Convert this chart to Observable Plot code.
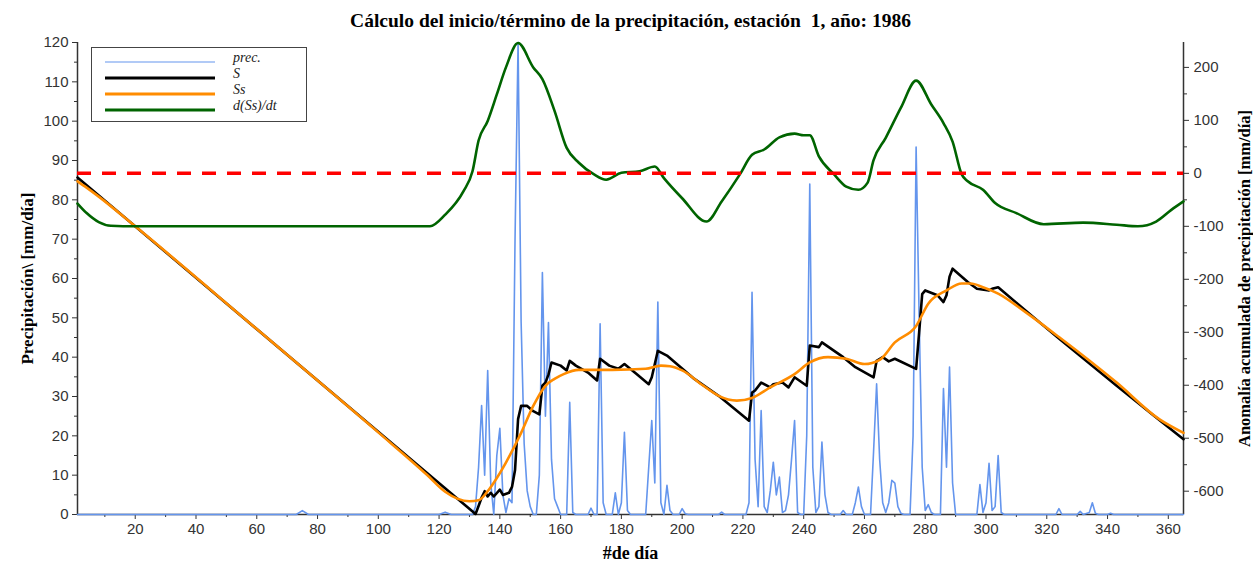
<!DOCTYPE html>
<html>
<head>
<meta charset="utf-8">
<script src="https://cdn.jsdelivr.net/npm/d3@7"></script>
<script src="https://cdn.jsdelivr.net/npm/@observablehq/plot@0.6"></script>
<style>
  html, body { margin: 0; padding: 0; background: #fff; }
  #wrap { position: relative; width: 1253px; height: 564px; }
  #legend { position: absolute; left: 91px; top: 47px; width: 216px; height: 75px;
            border: 1px solid #444; background: #fff; box-sizing: border-box; }
</style>
</head>
<body>
<div id="wrap"><div id="chart"></div><div id="legend"></div></div>
<script>
// ---------- text ----------
const titleText = "Cálculo del inicio/término de la precipitación, estación  1, año: 1986";
const xLabelText = "#de día";
const yLeftLabelText = "Precipitación\\ [mm/día]";
const yRightLabelText = "Anomalía acumulada de precipitación [mm/día]";

// ---------- scales / ticks ----------
const xDomain = [1, 365];
const yLeftDomain = [0, 120];
const yRightDomain = [-644, 247];
const xTicks = [20, 40, 60, 80, 100, 120, 140, 160, 180, 200, 220, 240, 260, 280, 300, 320, 340, 360];
const xMinorTicks = [10, 30, 50, 70, 90, 110, 130, 150, 170, 190, 210, 230, 250, 270, 290, 310, 330, 350];
const yLeftTicks = [0, 10, 20, 30, 40, 50, 60, 70, 80, 90, 100, 110, 120];
const yLeftMinorTicks = [5, 15, 25, 35, 45, 55, 65, 75, 85, 95, 105, 115];
const yRightTicks = [-600, -500, -400, -300, -200, -100, 0, 100, 200];
const yRightMinorTicks = [-550, -450, -350, -250, -150, -50, 50, 150];
const thresholdValue = [0];

// ---------- data: daily precipitation (left axis, mm/día) ----------
const precDay = [1, 73, 75, 77, 120, 122, 124,
  131, 132, 133, 134, 135, 136, 137, 138, 139, 140, 141, 142, 143, 144, 145, 146, 147, 148, 149, 150, 151,
  152, 153, 154, 155, 156, 157, 158, 159, 160,
  162, 163, 164, 165, 169, 170, 171, 172, 173, 174, 175,
  177, 178, 179, 180, 181, 182, 183,
  188, 189, 190, 191, 192, 193, 194, 195, 196, 197, 199, 200, 201, 202,
  212, 213, 214,
  221, 222, 223, 224, 225, 226, 227, 228, 229, 230, 231, 232, 233, 234, 235, 236, 237, 238, 239,
  240, 241, 242, 243, 244, 245, 246, 247, 248, 249,
  252, 253, 254, 256, 257, 258, 259, 260,
  262, 263, 264, 265, 266, 267, 268, 269, 270, 271, 272, 273,
  275, 276, 277, 278, 279, 280, 281, 282, 283,
  285, 286, 287, 288, 289, 290,
  297, 298, 299, 300, 301, 302, 303, 304, 305, 306,
  323, 324, 325, 330, 331, 332, 334, 335, 336, 337, 340, 341, 342, 365];
const precVal = [0, 0, 1.0, 0, 0, 0.6, 0,
  0, 2, 12, 27.7, 10, 36.6, 8, 0, 15, 21.9, 5, 0.5, 4, 3, 70, 120, 49, 18, 6, 2, 0,
  0, 10, 61.5, 25, 48.8, 14, 4, 2, 0,
  0, 28.5, 0.5, 0, 0, 1.6, 0, 0, 48.5, 3, 0,
  0, 5.5, 0, 3, 20.9, 1, 0,
  0, 12, 23.9, 8, 54, 3, 0, 7.4, 1, 0, 0, 1.5, 0.2, 0,
  0, 0.6, 0,
  0, 3, 56.5, 14, 2, 26.4, 2, 0.5, 6, 13.3, 5, 9.5, 0.5, 1, 5, 14, 23.9, 0.5, 0,
  0, 20, 84, 12, 0.5, 2, 18.4, 5, 0.5, 0,
  0, 1, 0, 0, 3, 7, 2, 0,
  0, 16, 33.2, 14, 3, 0.5, 3, 8.7, 8, 2, 0.3, 0,
  0, 20, 93.4, 50, 12, 1, 2.5, 0.5, 0,
  0, 32, 12, 37.5, 8, 0,
  0, 7.6, 0.5, 3, 13, 1, 2, 15, 0.5, 0,
  0, 1.5, 0, 0, 0.8, 0, 0.5, 3, 0.3, 0, 0, 0.3, 0, 0];

// ---------- data: S, accumulated anomaly (right axis) ----------
const sDay = [1, 132, 133, 134, 135, 136, 137, 138, 140, 141, 143, 144, 145, 146, 147, 149, 151, 153, 154, 155, 156, 157,
  160, 162, 163, 165, 169, 172, 173, 176, 179, 181, 185, 189, 190, 192, 195, 204, 212, 222, 223, 224, 226, 229, 230,
  233, 235, 237, 239, 241, 242, 245, 246, 253, 257, 263, 264, 266, 268, 270, 277, 278, 279, 280, 284, 286, 287, 288,
  289, 294, 297, 301, 302, 304, 313, 324, 343, 356, 365];
const sVal = [-8, -643, -628, -612, -600, -610, -603, -610, -597, -607, -603, -592, -560, -464, -439, -439, -449, -455, -401, -395, -380, -357,
  -363, -372, -354, -363, -376, -391, -350, -363, -369, -360, -379, -398, -385, -335, -344, -388, -420, -467, -414, -410, -395, -404, -398,
  -395, -404, -385, -393, -401, -325, -328, -319, -347, -366, -385, -354, -347, -355, -350, -369, -300, -228, -221, -230, -243, -230, -195,
  -180, -205, -218, -221, -218, -215, -259, -312, -401, -461, -502];

// ---------- data: Ss, smoothed anomaly (right axis) ----------
const ssDay = [1, 4, 8, 20, 60, 100, 116, 122, 126, 130, 133, 136, 138, 142, 147, 151, 155, 158, 161, 166, 177, 188, 193, 196, 200, 207,
  212, 218, 223, 229, 237, 242, 248, 254, 260, 265, 270, 277, 281, 287, 292, 295, 299, 304, 313, 324, 343, 357, 365];
const ssVal = [-15, -27, -44, -100, -294, -489, -569, -601, -614, -619, -617, -600, -584, -546, -490, -439, -401, -388, -379, -371, -371, -369, -363, -364, -372, -401,
  -420, -429, -424, -404, -379, -357, -347, -350, -360, -352, -319, -288, -246, -221, -208, -208, -215, -227, -262, -309, -395, -464, -490];

// ---------- data: d(Ss)/dt (right axis) ----------
const dDay = [1, 4, 8, 12, 20, 117, 122, 128, 131, 133, 136, 139, 142, 146, 151, 154, 158, 162, 166, 171, 175, 180, 186, 191,
  194, 200, 208, 213, 219, 223, 227, 232, 237, 240, 242, 245, 250, 254, 258, 261, 263, 267, 272, 277, 282, 286, 289, 292,
  294, 299, 303, 310, 319, 332, 343, 350, 356, 361, 365];
const dVal = [-57, -75, -92, -99, -100, -100, -78, -34, 4, 62, 99, 149, 200, 246, 200, 178, 118, 48, 20, -2, -12, 1, 4, 13,
  -9, -47, -91, -53, -2, 35, 45, 68, 75, 72, 72, 32, -2, -25, -31, -18, 25, 67, 124, 175, 130, 95, 60, -2,
  -15, -31, -56, -75, -96, -93, -97, -100, -91, -69, -53];

// ---------- legend ----------
const legendLabels = ["prec.", "S", "Ss", "d(Ss)/dt"];
const legendColors = ["#6495ED", "#000000", "#FF8C00", "#006400"];
const legendWidths = [1.2, 3, 3, 3];

// ---------- build ----------
const toLeft = r => yLeftDomain[0] + (r - yRightDomain[0]) * (yLeftDomain[1] - yLeftDomain[0]) / (yRightDomain[1] - yRightDomain[0]);
const toRight = l => yRightDomain[0] + (l - yLeftDomain[0]) * (yRightDomain[1] - yRightDomain[0]) / (yLeftDomain[1] - yLeftDomain[0]);

const prec = precDay.map((d, i) => ({day: d, v: precVal[i]}));
const S = sDay.map((d, i) => ({day: d, v: sVal[i]}));
const Ss = ssDay.map((d, i) => ({day: d, v: ssVal[i]}));
const dS = dDay.map((d, i) => ({day: d, v: dVal[i]}));

const sans = "'Liberation Sans', Arial, Helvetica, sans-serif";
const serif = "'Liberation Serif', 'Times New Roman', serif";
const axisColor = "#333";

const chart = Plot.plot({
  width: 1253, height: 564,
  marginLeft: 77, marginRight: 70, marginTop: 42, marginBottom: 50,
  style: {fontFamily: sans, fontSize: "15px", background: "#fff"},
  x: {domain: xDomain, axis: null},
  y: {domain: yLeftDomain, axis: null},
  marks: [
    // axes
    Plot.axisX(xTicks, {anchor: "bottom", tickSize: 5, tickPadding: 4, color: axisColor, label: null, fontSize: 15}),
    Plot.axisX(xMinorTicks, {anchor: "bottom", tickSize: 3, tickFormat: () => "", color: axisColor, label: null}),
    Plot.axisY(yLeftTicks, {anchor: "left", tickSize: 5, tickPadding: 4, color: axisColor, label: null, fontSize: 15}),
    Plot.axisY(yLeftMinorTicks, {anchor: "left", tickSize: 3, tickFormat: () => "", color: axisColor, label: null}),
    Plot.axisY(yRightTicks.map(toLeft), {anchor: "right", tickSize: 5, tickPadding: 5, color: axisColor, label: null, fontSize: 15,
      tickFormat: v => String(Math.round(toRight(v)))}),
    Plot.axisY(yRightMinorTicks.map(toLeft), {anchor: "right", tickSize: 3, tickFormat: () => "", color: axisColor, label: null}),
    Plot.ruleX([xDomain[0], xDomain[1]], {stroke: axisColor, strokeWidth: 1.5}),
    Plot.ruleY([yLeftDomain[0]], {stroke: axisColor, strokeWidth: 1.5}),
    // data
    Plot.line(prec, {x: "day", y: "v", stroke: legendColors[0], strokeWidth: 1.6}),
    Plot.line(S, {x: "day", y: d => toLeft(d.v), stroke: legendColors[1], strokeWidth: 2.6}),
    Plot.line(Ss, {x: "day", y: d => toLeft(d.v), stroke: legendColors[2], strokeWidth: 2.6, curve: "monotone-x"}),
    Plot.line(dS, {x: "day", y: d => toLeft(d.v), stroke: legendColors[3], strokeWidth: 2.6, curve: "monotone-x"}),
    Plot.ruleY(thresholdValue.map(toLeft), {stroke: "#ff0000", strokeWidth: 3.5, strokeDasharray: "14,11"}),
    // titles
    Plot.text([titleText], {text: d => d, frameAnchor: "top", dy: -22, textAnchor: "middle", lineAnchor: "middle",
      fontFamily: serif, fontWeight: "bold", fontSize: 19.5, fill: "#000"}),
    Plot.text([xLabelText], {text: d => d, frameAnchor: "bottom", dy: 39, textAnchor: "middle", lineAnchor: "middle",
      fontFamily: serif, fontWeight: "bold", fontSize: 18, fill: "#000"}),
    Plot.text([yLeftLabelText], {text: d => d, frameAnchor: "left", dx: -50, rotate: -90, textAnchor: "middle", lineAnchor: "middle",
      fontFamily: serif, fontWeight: "bold", fontSize: 17, fill: "#000"}),
    Plot.text([yRightLabelText], {text: d => d, frameAnchor: "right", dx: 61, rotate: -90, textAnchor: "middle", lineAnchor: "middle",
      fontFamily: serif, fontWeight: "bold", fontSize: 16.5, fill: "#000"})
  ]
});
document.getElementById("chart").appendChild(chart);

// legend box
const lg = d3.select("#legend").append("svg").attr("width", 214).attr("height", 73);
const rowLineY = [14, 30, 46, 62];
legendLabels.forEach((lab, i) => {
  lg.append("line").attr("x1", 13).attr("x2", 123).attr("y1", rowLineY[i]).attr("y2", rowLineY[i])
    .attr("stroke", legendColors[i]).attr("stroke-width", legendWidths[i]);
  lg.append("text").attr("x", 141).attr("y", rowLineY[i] - 3).attr("dominant-baseline", "middle")
    .attr("font-family", serif).attr("font-style", "italic").attr("font-size", 14).attr("fill", "#222").text(lab);
});
</script>
</body>
</html>
